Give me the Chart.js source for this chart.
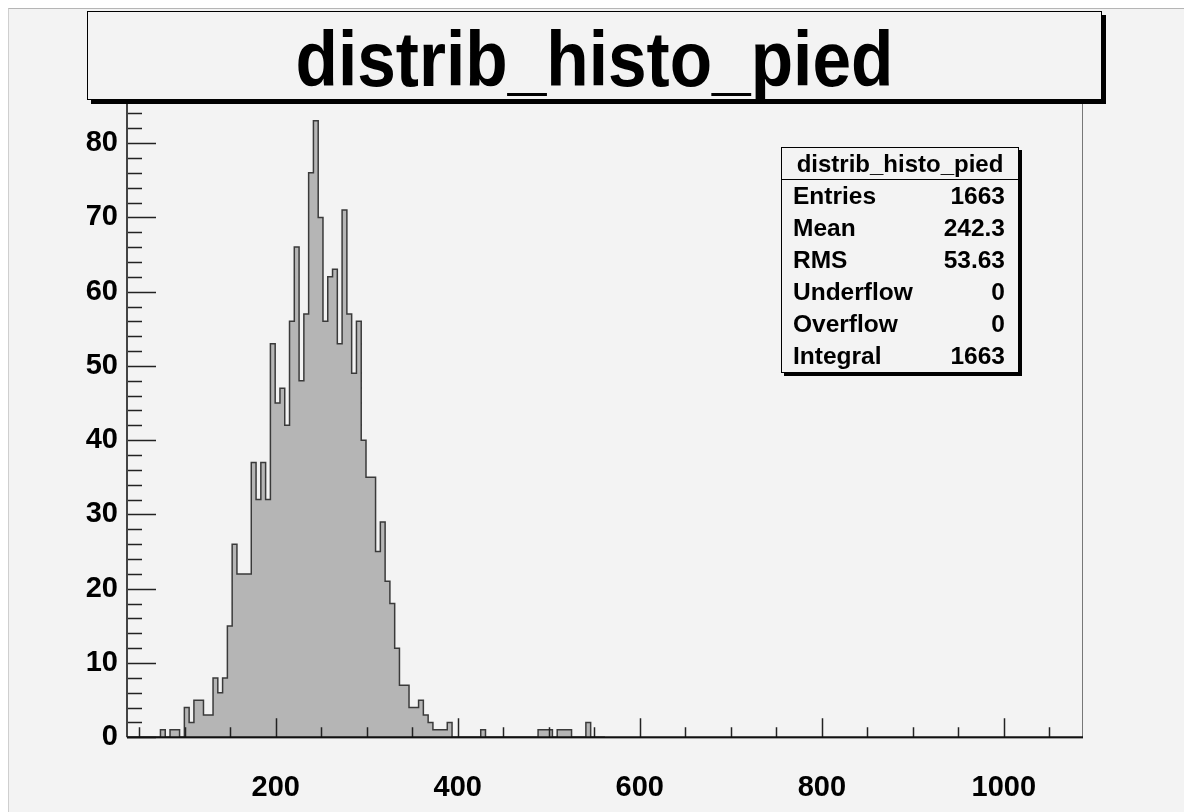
<!DOCTYPE html>
<html>
<head>
<meta charset="utf-8">
<title>distrib_histo_pied</title>
<script src="https://cdn.jsdelivr.net/npm/chart.js@4.4.1/dist/chart.umd.min.js"></script>
<style>
  html, body { margin: 0; padding: 0; background: #fff; }
  body { width: 1191px; height: 812px; position: relative; overflow: hidden;
         font-family: 'Liberation Sans', Arial, Helvetica, sans-serif; color: #000; }
  #pad { position: absolute; left: 8px; top: 8px; width: 1176px; height: 804px;
         background: #f3f3f3; border-top: 1px solid #b5b5b5; border-left: 1px solid #cfcfcf;
         box-sizing: border-box; }
  #histo { position: absolute; left: 0; top: 0; }
  .box { position: absolute; background: #f3f3f3; border: 1px solid #000; box-sizing: border-box; }
  #title { left: 87px; top: 11px; width: 1015px; height: 89px; box-shadow: 4px 4px 0 #000; }
  #title span { position: absolute; left: 0; right: 0; top: 8px; text-align: center;
                font-weight: bold; font-size: 78px; line-height: 78px; transform: scaleX(0.89); }
  #stats { left: 781px; top: 147px; width: 238px; height: 226px; box-shadow: 3px 3px 0 #000; }
  #stats .head { height: 32px; line-height: 32px; text-align: center; font-weight: bold;
                 font-size: 24px; border-bottom: 1px solid #000; box-sizing: border-box; }
  #stats .row { height: 32px; line-height: 32px; font-weight: bold; font-size: 24.5px;
                padding: 0 13px 0 11px; display: flex; justify-content: space-between; }
</style>
</head>
<body>
<div id="pad"></div>
<canvas id="histo" width="1191" height="812"></canvas>
<div id="title" class="box"><span></span></div>
<div id="stats" class="box"></div>
<script>
'use strict';

const histName = 'distrib_histo_pied';

// 200 bins from xMin to xMax; counts listed for the first 100, the rest are empty
const xMin = 36.5;
const xMax = 1087;
const nBins = 200;
const counts = [
  0, 0, 0, 0, 0, 0, 0, 1, 0, 1,
  1, 0, 4, 2, 5, 5, 3, 3, 8, 6,
  8, 15, 26, 22, 22, 22, 37, 32, 37, 32,
  53, 45, 47, 42, 56, 66, 48, 57, 76, 83,
  70, 56, 62, 63, 53, 71, 57, 49, 56, 40,
  35, 35, 25, 29, 21, 18, 12, 7, 7, 4,
  4, 5, 3, 2, 1, 1, 1, 2, 0, 0,
  0, 0, 0, 0, 1, 0, 0, 0, 0, 0,
  0, 0, 0, 0, 0, 0, 1, 1, 1, 0,
  1, 1, 1, 0, 0, 0, 2, 0, 0, 0
];

const yMax = 87.15;
const xTicks = [200, 400, 600, 800, 1000];
const yTicks = [0, 10, 20, 30, 40, 50, 60, 70, 80];

const statLabels = ['Entries', 'Mean', 'RMS', 'Underflow', 'Overflow', 'Integral'];
const statValues = ['1663', '242.3', '53.63', '0', '0', '1663'];

// title + stats box
document.querySelector('#title span').textContent = histName;
const stats = document.getElementById('stats');
let head = document.createElement('div');
head.className = 'head';
head.textContent = histName;
stats.appendChild(head);
for (let i = 0; i < statLabels.length; i++) {
  let row = document.createElement('div');
  row.className = 'row';
  let l = document.createElement('span');
  let v = document.createElement('span');
  l.textContent = statLabels[i];
  v.textContent = statValues[i];
  row.appendChild(l);
  row.appendChild(v);
  stats.appendChild(row);
}

// points at the low edge of each bin, stepped so every bin is a flat top
const binW = (xMax - xMin) / nBins;
let points = [];
for (let i = 0; i < counts.length; i++) {
  points.push({ x: xMin + i * binW, y: counts[i] });
}
points.push({ x: xMin + counts.length * binW, y: 0 });

// ROOT style frame with ticks pointing into the pad
const rootAxes = {
  id: 'rootAxes',
  afterDatasetsDraw(chart) {
    const { ctx, chartArea: a } = chart;
    const x = chart.scales.x;
    const y = chart.scales.y;
    ctx.save();
    ctx.strokeStyle = '#777';
    ctx.lineWidth = 1;
    ctx.strokeRect(a.left + 0.5, a.top + 0.5, a.right - a.left - 1, a.bottom - a.top);

    ctx.strokeStyle = '#222';
    ctx.lineWidth = 1.5;
    ctx.beginPath();
    for (let v = 50; v < xMax; v += 50) {
      if (v < xMin) continue;
      const px = Math.round(x.getPixelForValue(v)) + 0.5;
      const len = v % 200 === 0 ? 19 : 10;
      ctx.moveTo(px, a.bottom);
      ctx.lineTo(px, a.bottom - len);
    }
    for (let v = 0; v < yMax; v += 2) {
      const py = Math.round(y.getPixelForValue(v)) + 0.5;
      const len = v % 10 === 0 ? 29 : 15;
      ctx.moveTo(a.left, py);
      ctx.lineTo(a.left + len, py);
    }
    ctx.stroke();

    ctx.strokeStyle = '#444';
    ctx.lineWidth = 2;
    ctx.beginPath();
    ctx.moveTo(a.left, a.top);
    ctx.lineTo(a.left, a.bottom);
    ctx.stroke();
    ctx.strokeStyle = '#111';
    ctx.beginPath();
    ctx.moveTo(a.left, a.bottom);
    ctx.lineTo(a.right, a.bottom);
    ctx.stroke();
    ctx.restore();
  }
};

const labelFont = { family: "'Liberation Sans', Arial, sans-serif", size: 29, weight: 'bold' };

new Chart(document.getElementById('histo'), {
  type: 'line',
  data: {
    datasets: [{
      label: histName,
      data: points,
      stepped: true,
      fill: 'origin',
      backgroundColor: '#b5b5b5',
      borderColor: '#3a3a3a',
      borderWidth: 1.5,
      pointRadius: 0
    }]
  },
  options: {
    responsive: false,
    animation: false,
    events: [],
    layout: { padding: { top: 90, right: 108, left: 0, bottom: 0 } },
    plugins: { legend: { display: false }, tooltip: { enabled: false }, title: { display: false } },
    scales: {
      x: {
        type: 'linear',
        min: xMin,
        max: xMax,
        grid: { display: false, drawTicks: false },
        border: { display: false },
        afterBuildTicks: (s) => { s.ticks = xTicks.map(v => ({ value: v })); },
        afterFit: (s) => { s.height = 74.7; },
        ticks: { font: labelFont, color: '#000', padding: 33, maxRotation: 0, autoSkip: false,
                 callback: (v) => String(v) }
      },
      y: {
        min: 0,
        max: yMax,
        grid: { display: false, drawTicks: false },
        border: { display: false },
        afterBuildTicks: (s) => { s.ticks = yTicks.map(v => ({ value: v })); },
        afterFit: (s) => { s.width = 127; },
        ticks: { font: labelFont, color: '#000', padding: 9, autoSkip: false,
                 callback: (v) => String(v) }
      }
    }
  },
  plugins: [rootAxes]
});
</script>
</body>
</html>
